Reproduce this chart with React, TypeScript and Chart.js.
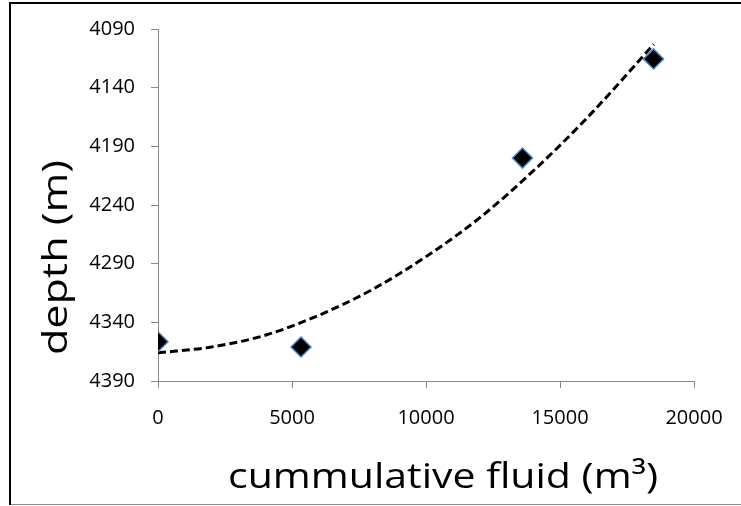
import React, { useEffect, useRef } from "react";
import { Chart, registerables } from "chart.js";

Chart.register(...registerables);

// Measured data points (cumulative fluid in m³, depth in m)
const fluidVolumes = [0, 5336, 13600, 18490];
const depths = [4356.5, 4361, 4200, 4115.5];

// Dashed trend line
const trendFluid = [0, 2000, 4000, 6000, 8000, 10000, 12000, 14000, 16000, 18500];
const trendDepth = [4366, 4361, 4351, 4334, 4312, 4284, 4251, 4211, 4166, 4103];

// Tick labels
const xTicks = [0, 5000, 10000, 15000, 20000];
const yTicks = [4090, 4140, 4190, 4240, 4290, 4340, 4390];

const xTitle = "cummulative fluid (m³)";
const yTitle = "depth (m)";

const AXIS_GRAY = "#868686";
const TICK_FONT = { family: "'Open Sans'", size: 20 };

const framePlugin = {
  id: "frameAndTitles",
  afterDraw(chart: any) {
    const ctx = chart.ctx as CanvasRenderingContext2D;
    ctx.save();
    // outer frame
    ctx.fillStyle = "#000";
    ctx.fillRect(9, 2, 732, 2);
    ctx.fillRect(9, 2, 2, 503);
    ctx.fillStyle = "#8c8c8c";
    ctx.fillRect(11, 504, 730, 1);
    ctx.restore();

    // x title
    ctx.save();
    ctx.font = "35px 'Open Sans'";
    ctx.fillStyle = "#000";
    ctx.textAlign = "center";
    ctx.textBaseline = "alphabetic";
    const wx = ctx.measureText(xTitle).width;
    ctx.translate(443, 488);
    ctx.scale(430 / wx, 1);
    ctx.fillText(xTitle, 0, 0);
    ctx.restore();

    // y title
    ctx.save();
    ctx.font = "35px 'Open Sans'";
    ctx.fillStyle = "#000";
    ctx.textAlign = "center";
    ctx.textBaseline = "alphabetic";
    const wy = ctx.measureText(yTitle).width;
    ctx.translate(66.5, 257.5);
    ctx.rotate(-Math.PI / 2);
    ctx.scale(195 / wy, 1);
    ctx.fillText(yTitle, 0, 0);
    ctx.restore();
  },
};

export default function App() {
  const canvasRef = useRef<HTMLCanvasElement | null>(null);

  useEffect(() => {
    if (!canvasRef.current) return;
    const chart = new Chart(canvasRef.current, {
      type: "scatter",
      data: {
        datasets: [
          {
            label: "data",
            data: fluidVolumes.map((x, i) => ({ x, y: depths[i] })),
            pointStyle: "rectRot",
            pointRadius: 10,
            pointHoverRadius: 10,
            backgroundColor: "#000",
            borderColor: "#4f81bd",
            borderWidth: 1.5,
            showLine: false,
            order: 1,
          },
          {
            label: "trend",
            data: trendFluid.map((x, i) => ({ x, y: trendDepth[i] })),
            showLine: true,
            pointRadius: 0,
            borderColor: "#000",
            borderWidth: 3,
            borderDash: [8, 4],
            cubicInterpolationMode: "monotone",
            fill: false,
            order: 2,
          },
        ],
      },
      options: {
        animation: false,
        responsive: false,
        devicePixelRatio: 1,
        layout: { padding: { left: 0, top: 29, right: 47, bottom: 0 } },
        plugins: {
          legend: { display: false },
          tooltip: { enabled: false },
        },
        scales: {
          x: {
            type: "linear",
            position: "bottom",
            min: 0,
            max: 20000,
            afterBuildTicks: (s: any) => {
              s.ticks = xTicks.map((v) => ({ value: v }));
            },
            afterFit: (s: any) => {
              s.height = 125;
            },
            grid: {
              display: true,
              drawOnChartArea: false,
              drawTicks: true,
              tickLength: 7,
              color: AXIS_GRAY,
            },
            border: { display: true, color: AXIS_GRAY, width: 1 },
            ticks: {
              font: TICK_FONT,
              color: "#000",
              padding: 18,
              maxRotation: 0,
              autoSkip: false,
              callback: (v: any) => String(v),
            },
          },
          y: {
            type: "linear",
            reverse: true,
            min: 4090,
            max: 4390,
            afterBuildTicks: (s: any) => {
              s.ticks = yTicks.map((v) => ({ value: v }));
            },
            afterFit: (s: any) => {
              s.width = 158;
            },
            grid: {
              display: true,
              drawOnChartArea: false,
              drawTicks: true,
              tickLength: 7,
              color: AXIS_GRAY,
            },
            border: { display: true, color: AXIS_GRAY, width: 1 },
            ticks: {
              font: TICK_FONT,
              color: "#000",
              padding: 16,
              autoSkip: false,
              callback: (v: any) => String(v),
            },
          },
        },
      },
      plugins: [framePlugin],
    });
    return () => chart.destroy();
  }, []);

  return (
    <div style={{ position: "fixed", left: 0, top: 0, width: 741, height: 506, background: "#fff" }}>
      <canvas ref={canvasRef} width={741} height={506} style={{ display: "block", width: 741, height: 506 }} />
    </div>
  );
}
